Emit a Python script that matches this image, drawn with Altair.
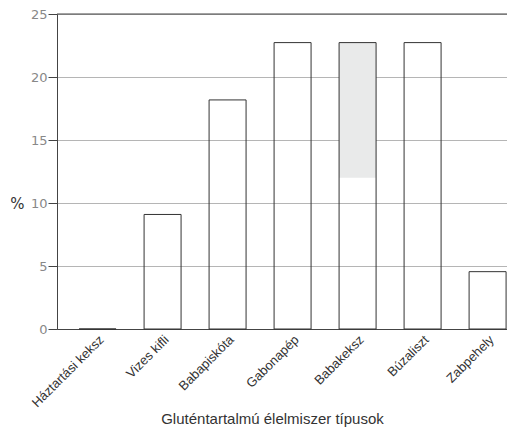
import altair as alt
import pandas as pd

categories = ["Háztartási keksz", "Vizes kifli", "Babapiskóta", "Gabonapép",
              "Babakeksz", "Búzaliszt", "Zabpehely"]
values = [0, 9.09, 18.18, 22.73, 22.73, 22.73, 4.55]

shade_category = ["Babakeksz"]
shade_low = [12.0]
shade_high = [22.73]

y_ticks = [0, 5, 10, 15, 20, 25]

df = pd.DataFrame({"cat": categories, "val": values})
shade = pd.DataFrame({"cat": shade_category, "lo": shade_low, "hi": shade_high})
top = pd.DataFrame({"t": [25]})

x_scale = alt.Scale(domain=categories, paddingInner=0.431, paddingOuter=0.177, align=0.96)
y_scale = alt.Scale(domain=[0, 25])

x_axis = alt.Axis(
    title="Gluténtartalmú élelmiszer típusok", labelAngle=-45, ticks=False,
    domainColor="#444", labelColor="#333", labelFont="Liberation Sans",
    labelFontSize=13, labelPadding=4, titleFont="Liberation Sans",
    titleFontSize=15, titleFontWeight="normal", titleColor="#333",
    titleX=215, titleY=94, titleBaseline="alphabetic", titleAlign="center",
    grid=False,
)
y_axis = alt.Axis(
    values=y_ticks, title="%", titleAngle=0, titleX=-33, titleY=189,
    titleAlign="right", titleBaseline="middle", titleFont="DejaVu Sans",
    titleFontSize=15, titleFontWeight="normal", titleColor="#333",
    gridColor="#b5b5b5", domainColor="#444", tickColor="#444", tickSize=9,
    labelPadding=1, labelColor="#888", labelFont="DejaVu Sans", labelFontSize=13,
)

shade_layer = alt.Chart(shade).mark_bar(color="#e9eaea").encode(
    x=alt.X("cat:N", scale=x_scale, axis=x_axis),
    y=alt.Y("hi:Q", scale=y_scale, axis=y_axis),
    y2="lo:Q",
)

bars = alt.Chart(df).mark_bar(fillOpacity=0, stroke="#333", strokeWidth=1).encode(
    x=alt.X("cat:N", scale=x_scale, axis=x_axis),
    y=alt.Y("val:Q", scale=y_scale, axis=y_axis),
)

top_rule = alt.Chart(top).mark_rule(color="#444", strokeWidth=1).encode(
    y=alt.Y("t:Q", scale=y_scale, axis=y_axis),
)

chart = alt.layer(shade_layer, bars, top_rule).properties(
    width=450, height=315,
    autosize=alt.AutoSizeParams(type="none"),
    padding={"left": 49, "top": 6, "right": 0, "bottom": 100},
).configure_view(stroke=None).configure(background="white")

chart.save("out.html", embed_options={"renderer": "svg", "actions": False})
